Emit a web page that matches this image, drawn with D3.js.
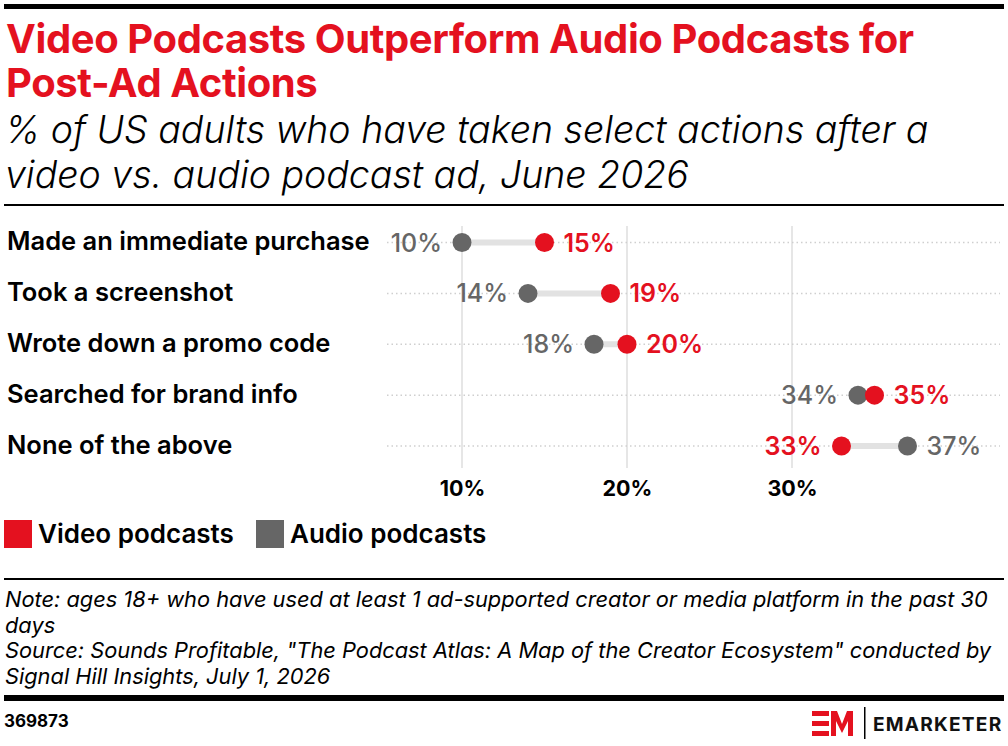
<!DOCTYPE html>
<html><head><meta charset="utf-8">
<script src="https://cdn.jsdelivr.net/npm/d3@7"></script>
<style>
html,body{margin:0;padding:0;background:#fff;}
svg{display:block;}
</style></head>
<body>
<svg id="c" width="1008" height="746"></svg>
<script>
const categories = ["Made an immediate purchase","Took a screenshot","Wrote down a promo code","Searched for brand info","None of the above"];
const videoValues = [15,19,20,35,33];
const audioValues = [10,14,18,34,37];
const tickValues = [10,20,30];
const tickLabels = ["10%","20%","30%"];
const seriesNames = ["Video podcasts","Audio podcasts"];
const titleLines = ["Video Podcasts Outperform Audio Podcasts for","Post-Ad Actions"];
const subtitleLines = ["% of US adults who have taken select actions after a","video vs. audio podcast ad, June 2026"];
const noteLines = ["Note: ages 18+ who have used at least 1 ad-supported creator or media platform in the past 30","days","Source: Sounds Profitable, \"The Podcast Atlas: A Map of the Creator Ecosystem\" conducted by","Signal Hill Insights, July 1, 2026"];
const chartId = "369873";

const RED = "#e4111f", GRAY = "#666666";
const FONT = "Inter, 'Noto Sans', sans-serif";
const svg = d3.select("#c");

function fit(sel, maxW){
  sel.each(function(){
    const w = this.getComputedTextLength();
    if (w > maxW) {
      const fs = parseFloat(d3.select(this).attr("font-size"));
      d3.select(this).attr("font-size", fs*maxW/w);
    }
  });
}

svg.append("rect").attr("x",4).attr("y",4).attr("width",1000).attr("height",5).attr("fill","#000");
const title = svg.append("text").attr("class","title")
  .attr("font-family",FONT).attr("font-weight",700).attr("font-size",40)
  .attr("fill",RED).attr("letter-spacing",-0.4);
title.selectAll("tspan").data(titleLines).join("tspan")
  .attr("x",6).attr("y",(d,i)=>53+i*44).text(d=>d);
svg.selectAll(".sub").data(subtitleLines).join("text").attr("class","sub")
  .attr("x",5).attr("y",(d,i)=>143+i*45)
  .attr("font-family",FONT).attr("font-style","italic").attr("font-weight",300).attr("font-size",37.5)
  .attr("fill","#000").text(d=>d);
fit(svg.selectAll(".sub"), 933);
svg.append("rect").attr("x",4).attr("y",204).attr("width",1000).attr("height",2).attr("fill","#000");

const x = d3.scaleLinear().domain([10,30]).range([462,792]);
const y = d3.scalePoint().domain(categories).range([242.5,446]);

const g = svg.append("g");
g.selectAll(".grid").data(tickValues).join("line")
  .attr("x1",d=>x(d)).attr("x2",d=>x(d)).attr("y1",226).attr("y2",468)
  .attr("stroke","#e6e6e6").attr("stroke-width",2);
g.selectAll(".row").data(categories).join("line")
  .attr("x1",387).attr("x2",1000).attr("y1",d=>y(d)).attr("y2",d=>y(d))
  .attr("stroke","#cfcfcf").attr("stroke-width",1.5).attr("stroke-dasharray","1.5,3");

const axis = d3.axisBottom(x).tickValues(tickValues).tickFormat((d,i)=>tickLabels[i]).tickSize(0).tickPadding(0);
const ag = svg.append("g").attr("transform","translate(0,481)").call(axis);
ag.select(".domain").remove();
ag.selectAll("text").attr("font-family",FONT).attr("font-weight",700).attr("font-size",21.5).attr("fill","#000");

const data = categories.map((c,i)=>({c, v:videoValues[i], a:audioValues[i]}));
g.selectAll(".conn").data(data).join("line")
  .attr("x1",d=>x(Math.min(d.v,d.a))).attr("x2",d=>x(Math.max(d.v,d.a)))
  .attr("y1",d=>y(d.c)).attr("y2",d=>y(d.c))
  .attr("stroke","#e2e2e2").attr("stroke-width",6);
g.selectAll(".adot").data(data).join("circle")
  .attr("cx",d=>x(d.a)).attr("cy",d=>y(d.c)).attr("r",9.5).attr("fill",GRAY);
g.selectAll(".vdot").data(data).join("circle")
  .attr("cx",d=>x(d.v)).attr("cy",d=>y(d.c)).attr("r",9.5).attr("fill",RED);

function lab(cls, key, color){
  g.selectAll("."+cls).data(data).join("text").attr("class",cls)
    .attr("x",d=>{const other = key==="v"?d.a:d.v; return d[key]>=other ? x(d[key])+19 : x(d[key])-20;})
    .attr("text-anchor",d=>{const other = key==="v"?d.a:d.v; return d[key]>=other ? "start":"end";})
    .attr("y",d=>y(d.c)).attr("dy","0.36em")
    .attr("font-family",FONT).attr("font-weight",key==="v"?600:500).attr("font-size",25)
    .attr("fill",color).text(d=>d[key]+"%");
}
lab("vl","v",RED); lab("al","a",GRAY);

svg.selectAll(".cat").data(categories).join("text").attr("class","cat")
  .attr("x",7).attr("y",d=>y(d)-1).attr("dy","0.35em")
  .attr("font-family",FONT).attr("font-weight",600).attr("font-size",25.5)
  .attr("fill","#000").text(d=>d);
fit(svg.selectAll(".cat"), 368);

const leg = svg.append("g").attr("transform","translate(0,520)");
const legX = [4,256];
const legColors = [RED,GRAY];
leg.selectAll("rect").data(seriesNames).join("rect")
  .attr("x",(d,i)=>legX[i]).attr("y",0).attr("width",28).attr("height",28).attr("fill",(d,i)=>legColors[i]);
leg.selectAll("text").data(seriesNames).join("text")
  .attr("x",(d,i)=>legX[i]+34).attr("y",14).attr("dy","0.36em")
  .attr("font-family",FONT).attr("font-weight",600).attr("font-size",26).attr("fill","#000").text(d=>d);

svg.append("rect").attr("x",4).attr("y",578).attr("width",1000).attr("height",2).attr("fill","#000");
svg.selectAll(".note").data(noteLines).join("text").attr("class","note")
  .attr("x",5).attr("y",(d,i)=>607+i*25.5)
  .attr("font-family",FONT).attr("font-style","italic").attr("font-weight",400).attr("font-size",21.8)
  .attr("fill","#000").text(d=>d);
fit(svg.selectAll(".note"), 996);
svg.append("rect").attr("x",4).attr("y",695).attr("width",1000).attr("height",6).attr("fill","#000");
svg.append("text").attr("x",4).attr("y",727).attr("font-family",FONT).attr("font-weight",700)
  .attr("font-size",17).attr("fill","#000").text(chartId);

const lg = svg.append("g");
lg.append("rect").attr("x",812).attr("y",711).attr("width",17).attr("height",5).attr("fill",RED);
lg.append("rect").attr("x",812).attr("y",721).attr("width",17).attr("height",5).attr("fill",RED);
lg.append("rect").attr("x",812).attr("y",731).attr("width",17).attr("height",5).attr("fill",RED);
lg.append("path").attr("d","M831,736 L831,711 L837,711 L842,724 L847,711 L853,711 L853,736 L848,736 L848,721 L842,733 L836,721 L836,736 Z").attr("fill",RED);
lg.append("rect").attr("x",864).attr("y",707).attr("width",1.5).attr("height",32).attr("fill","#000");
lg.append("text").attr("class","logo").attr("x",873).attr("y",731).attr("font-family",FONT).attr("font-weight",700)
  .attr("font-size",20).attr("letter-spacing",1.2).attr("fill","#111").text("EMARKETER");
fit(lg.selectAll(".logo"), 129);
</script>
</body></html>
